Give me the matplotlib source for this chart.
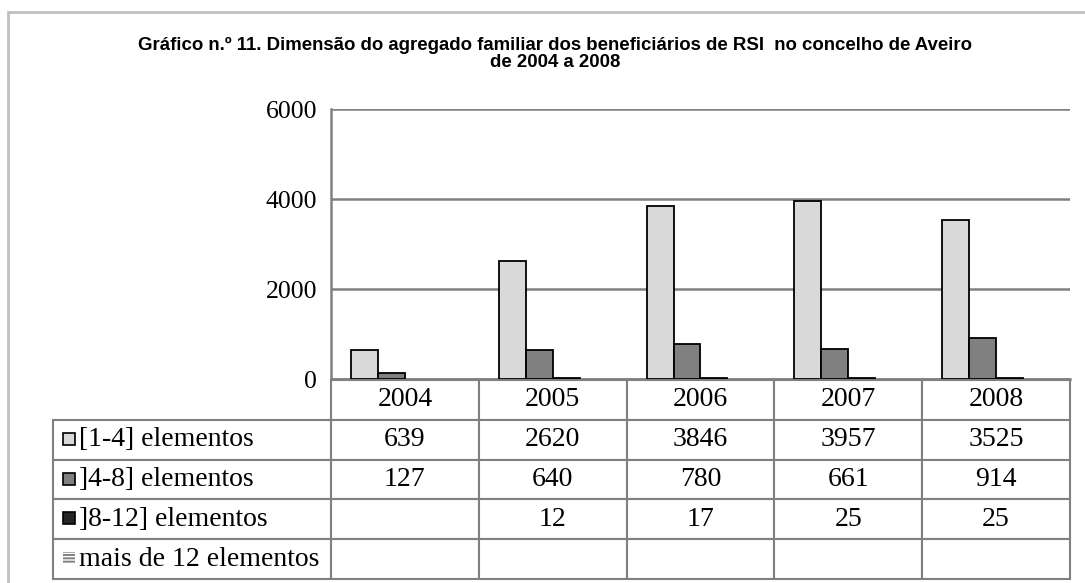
import matplotlib.pyplot as plt
import matplotlib.patches as mpatches
import numpy as np

# data
years = ['2004', '2005', '2006', '2007', '2008']
series_names = ['[1-4] elementos', ']4-8] elementos', ']8-12] elementos', 'mais de 12 elementos']
s_1_4 = [639, 2620, 3846, 3957, 3525]
s_4_8 = [127, 640, 780, 661, 914]
s_8_12 = [None, 12, 17, 25, 25]
s_12p = [None, None, None, None, None]
series = [s_1_4, s_4_8, s_8_12, s_12p]
colors = ['#d9d9d9', '#808080', '#262626', '#d9d9d9']
yticks = [0, 2000, 4000, 6000]

plt.rcParams['hatch.linewidth'] = 1.4

W, H = 1085, 583
fig = plt.figure(figsize=(W / 100, H / 100), dpi=100)
serif = ['Liberation Serif', 'DejaVu Serif']
sans = ['Liberation Sans', 'DejaVu Sans']

# outer frame
fig.patches.append(mpatches.Rectangle((8 / W, -0.1), 1.2, 1 - 12 / H + 0.1, transform=fig.transFigure,
                                      fill=False, edgecolor='#c0c0c0', lw=2))

fig.text(555 / W, 1 - 37 / H,
         'Gráfico n.º 11. Dimensão do agregado familiar dos beneficiários de RSI  no concelho de Aveiro\nde 2004 a 2008',
         ha='center', va='top', fontsize=13.4, fontweight='bold', family=sans, linespacing=1.0)

x0, x1, ytop, ybot = 331, 1070, 109, 379
ax = fig.add_axes([x0 / W, 1 - ybot / H, (x1 - x0) / W, (ybot - ytop) / H])

x = np.arange(len(years))
bw = 27 / 148
for i, (vals, c) in enumerate(zip(series, colors)):
    v = [np.nan if a is None else a for a in vals]
    ax.bar(x + (i - 1.5) * bw, v, bw, color=c, edgecolor='black', linewidth=1.3, zorder=3)

ax.set_xlim(-0.5, len(years) - 0.5)
ax.set_ylim(0, 6000)
ax.set_yticks(yticks)
ax.set_yticklabels([str(t) for t in yticks], family=serif, fontsize=18.5)
ax.tick_params(axis='y', length=0, pad=10)
ax.set_xticks([])
ax.grid(axis='y', color='#808080', lw=1.8, zorder=0)
for s in ['top', 'right']:
    ax.spines[s].set_visible(False)
ax.spines['left'].set_color('#808080')
ax.spines['left'].set_linewidth(1.8)
ax.spines['bottom'].set_color('#808080')
ax.spines['bottom'].set_linewidth(1.8)

# data table below the bars (bbox covers the data cells; row labels hang off the left)
cell_text = [['' if a is None else str(a) for a in vals] for vals in series]
tl, tt, tb = 53, 380, 579
lab_w = (x0 - tl) / (x1 - x0)
tab = ax.table(cellText=cell_text, rowLabels=series_names, colLabels=years,
               cellLoc='center', rowLoc='left', colWidths=[1 / len(years)] * len(years),
               bbox=[0, (ybot - tb) / (ybot - ytop), 1, (tb - tt) / (ybot - ytop)])
tab._autoColumns = []
tab.auto_set_font_size(False)
for (r, c), cell in tab.get_celld().items():
    cell.set_edgecolor('#808080')
    cell.set_linewidth(1.5)
    cell.get_text().set_fontsize(20)
    cell.get_text().set_family(serif)
    if c == -1:
        cell.set_width(lab_w)
        cell.PAD = 26 / (x0 - tl)

# legend keys inside row label cells
rh = (tb - tt) / 5
for i, c in enumerate(colors):
    cy = tt + rh * (i + 1.5) - 1
    if i < 3:
        key = mpatches.Rectangle((63 / W, 1 - (cy + 6) / H), 12 / W, 12 / H, transform=fig.transFigure,
                                 facecolor=c, edgecolor='black', lw=1.2)
    else:
        key = mpatches.Rectangle((63 / W, 1 - (cy + 6) / H), 12 / W, 12 / H, transform=fig.transFigure,
                                 facecolor='white', edgecolor='#808080', hatch='-----', lw=0)
    fig.patches.append(key)

fig.savefig('out.png', dpi=100)
